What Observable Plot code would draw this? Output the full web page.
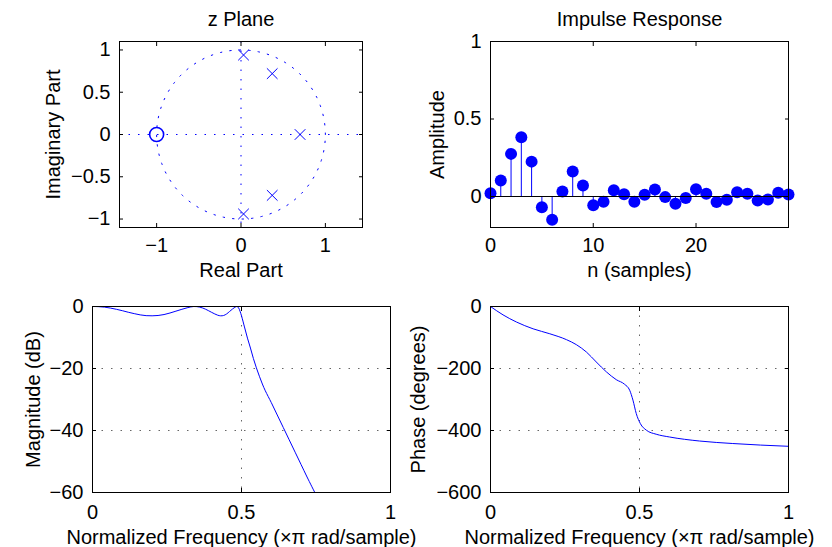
<!DOCTYPE html>
<html><head><meta charset="utf-8">
<script src="https://cdn.jsdelivr.net/npm/d3@7"></script>
<script src="https://cdn.jsdelivr.net/npm/@observablehq/plot@0.6"></script>
<style>
html,body{margin:0;padding:0;background:#fff;}
#chart{position:relative;width:832px;height:547px;overflow:hidden;background:#fff;}
#chart svg{position:absolute;left:0;top:0;}
</style></head><body><div id="chart"></div>
<script>
// ---- data ----
const zeroRe = [-1];
const zeroIm = [0];
const poleRe = [0.03, 0.37, 0.70, 0.37, 0.03];
const poleIm = [0.94, 0.72, 0.00, -0.72, -0.94];

const impulseN = [0,1,2,3,4,5,6,7,8,9,10,11,12,13,14,15,16,17,18,19,20,21,22,23,24,25,26,27,28,29];
const impulseAmp = [0.021,0.103,0.275,0.382,0.225,-0.069,-0.150,0.032,0.161,0.071,-0.056,-0.034,0.041,0.015,-0.034,0.011,0.045,-0.004,-0.047,-0.009,0.047,0.017,-0.036,-0.021,0.028,0.017,-0.026,-0.019,0.024,0.013];

const magFreq = [0,0.02,0.04,0.06,0.08,0.10,0.12,0.14,0.16,0.18,0.20,0.22,0.24,0.26,0.28,0.30,0.32,0.34,0.36,0.38,0.40,0.42,0.43,0.44,0.45,0.46,0.47,0.48,0.485,0.49,0.495,0.50,0.51,0.52,0.53,0.54,0.55,0.56,0.57,0.58,0.60,0.62,0.64,0.66,0.68,0.70,0.72,0.746];
const magDb   = [0,-0.05,-0.2,-0.5,-0.9,-1.35,-1.85,-2.3,-2.7,-2.95,-3.0,-2.9,-2.6,-2.1,-1.5,-0.9,-0.35,0,-0.2,-0.9,-1.9,-2.8,-3.0,-2.9,-2.4,-1.6,-0.8,-0.15,0,-0.4,-1.5,-3.0,-6.6,-10.2,-13.4,-16.8,-19.8,-22.5,-25,-27.2,-31,-35,-39,-43,-47,-51,-55,-60];

const phaseFreq = [0,0.042,0.087,0.143,0.199,0.255,0.288,0.322,0.355,0.389,0.422,0.45,0.467,0.478,0.489,0.503,0.523,0.556,0.601,0.702,0.813,1];
const phaseDeg  = [0,-27,-50,-72,-88,-107,-123,-147,-179,-211,-236,-251,-270,-302,-345,-378,-399,-412,-421,-434,-442,-451];

const zXTicks = [-1, 0, 1];
const zYTicks = [-1, -0.5, 0, 0.5, 1];
const irXTicks = [0, 10, 20];
const irYTicks = [0, 0.5, 1];
const fTicks = [0, 0.5, 1];
const magTicks = [-60, -40, -20, 0];
const magGrid = [-40, -20];
const phTicks = [-600, -400, -200, 0];
const phGrid = [-400, -200];
const fGrid = [0.5];
const unitRadius = 1;

// ---- tables built from the arrays ----
const zeros = zeroRe.map((re, i) => ({re, im: zeroIm[i]}));
const poles = poleRe.map((re, i) => ({re, im: poleIm[i]}));
const circle = d3.range(0, 361, 2).map(a => ({re: unitRadius * Math.cos(a * Math.PI / 180), im: unitRadius * Math.sin(a * Math.PI / 180)}));
const impulse = impulseN.map((n, i) => ({n, v: impulseAmp[i]}));
const mag = magFreq.map((f, i) => ({f, db: magDb[i]}));
const phase = phaseFreq.map((f, i) => ({f, deg: phaseDeg[i]}));

// ---- styling ----
const blue = "#0000ff";
const font = "'Liberation Sans', Arial, Helvetica, sans-serif";
const dotted = "1.5,8";
const fmt = d => d < 0 ? "\u2212" + String(-d) : String(d);

function decorations({xTicks, yTicks, title, xLabel, yLabel, xPad, yLabelDx, xLabelDy}) {
  const m = [
    Plot.axisX(xTicks, {anchor: "bottom", tickSize: -4, tickPadding: xPad, tickFormat: fmt, label: null, fontSize: 20, stroke: "black"}),
    Plot.axisX(xTicks, {anchor: "top", tickSize: -4, fill: "none", label: null, stroke: "black"}),
    Plot.axisY(yTicks, {anchor: "left", tickSize: -4, tickPadding: 13, tickFormat: fmt, label: null, fontSize: 20, stroke: "black"}),
    Plot.axisY(yTicks, {anchor: "right", tickSize: -4, fill: "none", label: null, stroke: "black"}),
    Plot.frame({stroke: "black", strokeWidth: 1}),
    Plot.text([xLabel], {frameAnchor: "bottom", dy: xLabelDy, lineAnchor: "bottom", textAnchor: "middle", fontSize: 20, fill: "black"}),
    Plot.text([yLabel], {frameAnchor: "left", dx: yLabelDx, rotate: -90, lineAnchor: "bottom", textAnchor: "middle", fontSize: 20, fill: "black"})
  ];
  if (title) m.push(Plot.text([title], {frameAnchor: "top", dy: -16, lineAnchor: "bottom", textAnchor: "middle", fontSize: 20, fill: "black"}));
  return m;
}

function panel(margins, x, y, marks) {
  return Plot.plot({
    width: 832, height: 547,
    ...margins,
    style: {background: "transparent", fontFamily: font, fontSize: "20px", color: "black", overflow: "visible"},
    x, y,
    marks
  });
}

const chart = document.getElementById("chart");

// z plane
chart.append(panel(
  {marginLeft: 119, marginRight: 470, marginTop: 41, marginBottom: 320},
  {domain: [-1.44, 1.44]}, {domain: [-1.1, 1.1]},
  [
    Plot.ruleY([0], {stroke: blue, strokeDasharray: dotted}),
    Plot.ruleX([0], {stroke: blue, strokeDasharray: dotted}),
    Plot.line(circle, {x: "re", y: "im", stroke: blue, strokeDasharray: dotted, strokeWidth: 1}),
    Plot.dot(zeros, {x: "re", y: "im", r: 7, stroke: blue, strokeWidth: 1.6, fill: "none"}),
    Plot.dot(poles, {x: "re", y: "im", symbol: "times", r: 4.9, stroke: blue, strokeWidth: 1}),
    ...decorations({xTicks: zXTicks, yTicks: zYTicks, title: "z Plane", xLabel: "Real Part", yLabel: "Imaginary Part", xPad: 14, yLabelDx: -60, xLabelDy: 49})
  ]
));

// impulse response
chart.append(panel(
  {marginLeft: 490, marginRight: 44, marginTop: 41, marginBottom: 320},
  {domain: [0, 29]}, {domain: [-0.2, 1]},
  [
    Plot.ruleX(impulse, {x: "n", y1: 0, y2: "v", stroke: blue, strokeWidth: 1}),
    Plot.dot(impulse, {x: "n", y: "v", r: 6, fill: blue, stroke: "none"}),
    Plot.ruleY([0], {stroke: "black", strokeWidth: 1}),
    ...decorations({xTicks: irXTicks, yTicks: irYTicks, title: "Impulse Response", xLabel: "n (samples)", yLabel: "Amplitude", xPad: 14, yLabelDx: -47, xLabelDy: 49})
  ]
));

// magnitude
chart.append(panel(
  {marginLeft: 92, marginRight: 442, marginTop: 306, marginBottom: 55},
  {domain: [0, 1]}, {domain: [-60, 0]},
  [
    Plot.gridY(magGrid, {stroke: "black", strokeOpacity: 0.6, strokeDasharray: dotted, strokeWidth: 1}),
    Plot.gridX(fGrid, {stroke: "black", strokeOpacity: 0.6, strokeDasharray: dotted, strokeWidth: 1}),
    Plot.line(mag, {x: "f", y: "db", stroke: blue, strokeWidth: 1, curve: "catmull-rom"}),
    ...decorations({xTicks: fTicks, yTicks: magTicks, xLabel: "Normalized Frequency (\u00d7\u03c0 rad/sample)", yLabel: "Magnitude (dB)", xPad: 16, yLabelDx: -53, xLabelDy: 51})
  ]
));

// phase
chart.append(panel(
  {marginLeft: 490, marginRight: 44, marginTop: 306, marginBottom: 55},
  {domain: [0, 1]}, {domain: [-600, 0]},
  [
    Plot.gridY(phGrid, {stroke: "black", strokeOpacity: 0.6, strokeDasharray: dotted, strokeWidth: 1}),
    Plot.gridX(fGrid, {stroke: "black", strokeOpacity: 0.6, strokeDasharray: dotted, strokeWidth: 1}),
    Plot.line(phase, {x: "f", y: "deg", stroke: blue, strokeWidth: 1, curve: "monotone-x"}),
    ...decorations({xTicks: fTicks, yTicks: phTicks, xLabel: "Normalized Frequency (\u00d7\u03c0 rad/sample)", yLabel: "Phase (degrees)", xPad: 16, yLabelDx: -66, xLabelDy: 51})
  ]
));
</script></body></html>
